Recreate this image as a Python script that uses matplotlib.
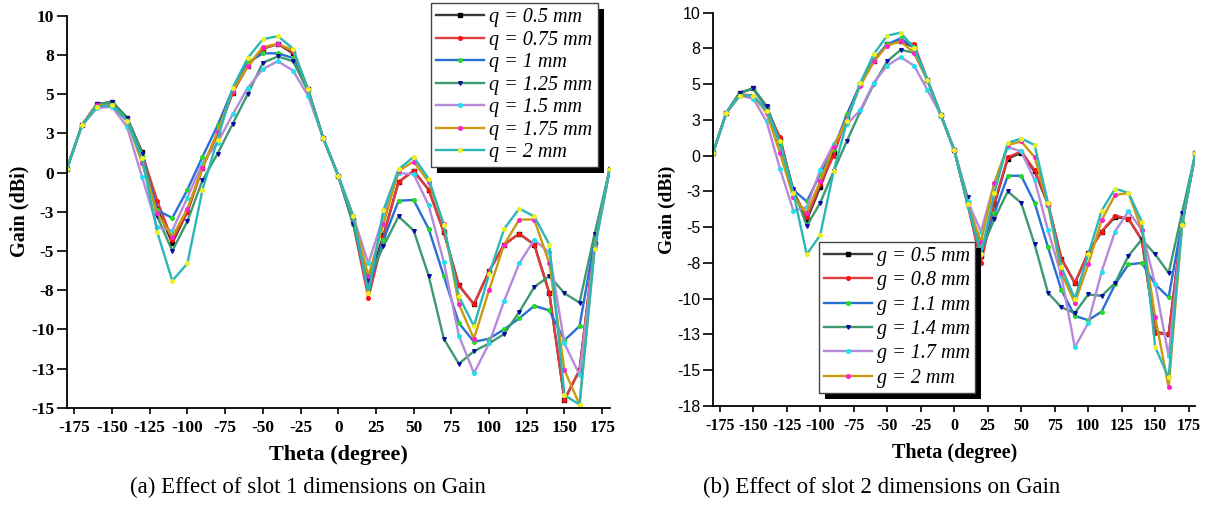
import matplotlib
matplotlib.use('Agg')
import matplotlib.pyplot as plt
from matplotlib.patches import Rectangle
from matplotlib.transforms import IdentityTransform

plt.rcParams['font.family'] = 'Liberation Serif'

# sampled angles (degree)
theta = list(range(-180, 181, 10))

# (a) slot 1, parameter q
q_labels = ['q = 0.5 mm', 'q = 0.75 mm', 'q = 1 mm', 'q = 1.25 mm',
            'q = 1.5 mm', 'q = 1.75 mm', 'q = 2 mm']
q05 = [0.2, 3.0, 4.35, 4.5, 3.5, 1.3, -2.3, -4.5, -2.5, 0.3, 2.5, 5.1, 6.8, 7.9, 8.2, 7.6, 5.3, 2.2, -0.2,
       -3.0, -7.0, -4.0, -0.6, 0.1, -1.1, -3.8, -7.2, -8.4, -6.3, -4.6, -3.9, -4.6, -7.7, -14.5, -12.6, -4.5, 0.2]
q075 = [0.2, 3.0, 4.35, 4.3, 3.3, 1.2, -1.8, -4.3, -2.5, 0.3, 2.5, 5.1, 6.8, 7.9, 8.2, 7.7, 5.3, 2.2, -0.2,
        -3.3, -8.0, -4.1, -0.6, 0.1, -1.1, -3.8, -7.2, -8.4, -6.3, -4.6, -3.9, -4.6, -7.7, -14.5, -12.6, -4.5, 0.2]
q1 = [0.2, 3.0, 4.35, 4.5, 3.5, 1.1, -2.4, -2.9, -1.1, 1.0, 3.0, 5.3, 7.0, 7.6, 7.6, 7.3, 5.2, 2.2, -0.2,
      -3.3, -7.3, -4.3, -1.8, -1.75, -3.6, -6.6, -9.6, -10.8, -10.6, -10.0, -9.3, -8.5, -8.8, -10.7, -9.8, -4.3, 0.2]
q125 = [0.2, 3.0, 4.35, 4.5, 3.5, 1.2, -2.8, -5.0, -3.1, -0.5, 1.2, 3.1, 5.0, 7.0, 7.4, 7.1, 5.2, 2.2, -0.2,
        -3.3, -6.8, -4.7, -2.8, -3.7, -6.6, -10.6, -12.2, -11.4, -10.9, -10.3, -8.9, -7.3, -6.6, -7.7, -8.3, -3.9, 0.2]
q15 = [0.2, 3.0, 4.1, 4.2, 2.9, -0.3, -3.5, -3.7, -1.6, 0.6, 1.9, 3.7, 5.4, 6.6, 7.1, 6.5, 4.9, 2.2, -0.2,
       -2.8, -5.8, -2.8, -0.05, -0.1, -2.1, -5.7, -10.4, -12.8, -10.9, -8.2, -5.8, -4.3, -5.1, -10.9, -12.9, -4.7, 0.2]
q175 = [0.2, 3.0, 4.3, 4.3, 3.3, 0.6, -2.6, -4.1, -2.3, 0.3, 2.6, 5.2, 6.8, 8.0, 8.2, 7.8, 5.3, 2.2, -0.2,
        -2.8, -6.6, -3.3, 0.1, 0.7, -0.6, -3.3, -8.4, -10.6, -7.5, -4.6, -3.0, -3.0, -5.8, -12.6, -14.8, -4.8, 0.2]
q2 = [0.2, 3.0, 4.2, 4.3, 3.3, 0.9, -3.8, -6.9, -5.8, -1.1, 2.1, 5.4, 7.3, 8.5, 8.7, 7.9, 5.3, 2.2, -0.2,
      -2.8, -7.7, -2.4, 0.2, 1.0, -0.4, -3.35, -7.9, -9.8, -6.5, -3.6, -2.3, -2.8, -4.6, -14.2, -14.8, -4.9, 0.2]

# (b) slot 2, parameter g
g_labels = ['g = 0.5 mm', 'g = 0.8 mm', 'g = 1.1 mm', 'g = 1.4 mm',
            'g = 1.7 mm', 'g = 2 mm', None]
g05 = [0.2, 3.0, 4.4, 4.7, 3.4, 1.2, -2.5, -4.5, -2.2, 0.2, 2.8, 5.0, 6.6, 7.8, 8.0, 7.6, 5.3, 2.85, 0.4,
       -3.3, -7.0, -3.4, -0.2, 0.2, -1.1, -3.4, -7.2, -8.9, -6.8, -5.3, -4.3, -4.4, -5.9, -12.3, -12.5, -4.8, 0.2]
g08 = [0.2, 3.0, 4.3, 4.2, 3.2, 1.3, -2.5, -4.3, -2.0, 0.0, 2.85, 5.0, 6.6, 7.8, 8.0, 7.8, 5.3, 2.85, 0.4,
       -3.4, -7.5, -3.3, -0.1, 0.3, -1.0, -3.3, -7.2, -8.9, -6.8, -5.3, -4.2, -4.4, -5.9, -12.4, -12.5, -4.85, 0.2]
g11 = [0.2, 3.0, 4.4, 4.7, 3.4, 0.8, -2.4, -3.2, -1.3, 0.5, 2.9, 5.0, 6.7, 7.8, 8.2, 7.6, 5.3, 2.85, 0.4,
       -3.4, -6.7, -4.0, -1.4, -1.4, -3.3, -6.4, -9.4, -11.2, -11.5, -10.9, -9.0, -7.6, -7.5, -9.0, -9.9, -4.6, 0.2]
g14 = [0.2, 3.0, 4.4, 4.7, 3.5, 0.9, -2.35, -4.9, -3.3, -1.1, 1.05, 3.1, 5.0, 6.6, 7.4, 7.2, 5.3, 2.85, 0.4,
       -2.9, -6.7, -4.4, -2.5, -3.3, -6.2, -9.6, -10.6, -11.0, -9.7, -9.8, -8.9, -7.0, -5.85, -6.9, -8.2, -4.0, 0.2]
g17 = [0.2, 3.0, 4.2, 4.0, 2.4, -0.9, -3.85, -3.6, -1.0, 0.8, 2.2, 3.2, 5.1, 6.3, 6.9, 6.3, 4.6, 2.85, 0.4,
       -3.2, -5.3, -1.9, 0.6, 0.3, -1.7, -5.2, -8.4, -13.4, -11.7, -8.1, -5.3, -3.9, -5.2, -9.0, -14.0, -4.85, 0.2]
g2 = [0.2, 3.0, 4.2, 4.2, 3.0, 0.2, -2.9, -4.0, -1.8, 0.6, 2.6, 4.9, 6.6, 7.7, 8.0, 7.2, 5.3, 2.85, 0.4,
      -3.4, -6.0, -1.9, 0.75, 1.0, -0.1, -3.45, -8.2, -10.3, -7.6, -4.5, -2.75, -2.6, -5.2, -11.3, -16.2, -4.85, 0.2]
g_extra = [0.2, 3.0, 4.2, 4.2, 3.15, 1.0, -2.6, -6.9, -5.55, -1.1, 2.4, 5.1, 7.1, 8.4, 8.6, 7.55, 5.3, 2.85, 0.4,
           -3.4, -6.9, -2.6, 0.9, 1.2, 0.75, -3.3, -7.8, -10.0, -6.9, -3.85, -2.3, -2.6, -4.6, -13.4, -15.5, -4.85, 0.2]

# axis ticks (Origin style: step 2.5, labels rounded)
y_ticks_a = [10, 7.5, 5, 2.5, 0, -2.5, -5, -7.5, -10, -12.5, -15]
y_labels_a = ['10', '8', '5', '3', '0', '-3', '-5', '-8', '-10', '-13', '-15']
y_ticks_b = [10, 7.5, 5, 2.5, 0, -2.5, -5, -7.5, -10, -12.5, -15, -17.5]
y_labels_b = ['10', '8', '5', '3', '0', '-3', '-5', '-8', '-10', '-13', '-15', '-18']
x_ticks = [-175, -150, -125, -100, -75, -50, -25, 0, 25, 50, 75, 100, 125, 150, 175]

line_colors = ['#3a3a3a', '#e23b3b', '#2a6fd6', '#3d9a6e', '#b68ad8', '#c99a10', '#2ab7b7']
mark_colors = ['#000000', '#ff1010', '#22dd22', '#0a0aa0', '#22e0f0', '#ff22cc', '#f0f020']
markers = ['s', 'o', 'o', 'v', 'o', 'o', 'o']

fig = plt.figure(figsize=(12.09, 5.08), dpi=100)
ax1 = fig.add_axes([0.0552, 0.1974, 0.4491, 0.7717])
ax2 = fig.add_axes([0.5897, 0.2008, 0.3991, 0.7742])


def draw(ax, series, labels, xfs, xlab_fs, ylab_fs):
    for i, vals in enumerate(series):
        ax.plot(theta, vals, color=line_colors[i], lw=1.7, marker=markers[i], ms=2.6,
                mfc=mark_colors[i], mec=mark_colors[i], label=labels[i])
    ax.set_xlim(-180, 180)
    for s in ['top', 'right']:
        ax.spines[s].set_visible(False)
    for s in ['left', 'bottom']:
        ax.spines[s].set_linewidth(1.3)
    ax.set_xticks(x_ticks)
    ax.set_xticklabels([str(t) for t in x_ticks], fontweight='bold', fontsize=xfs)
    ax.set_xticks([-150, -100, -50, 0, 50, 100, 150], minor=True)
    ax.tick_params(axis='x', which='major', direction='out', length=4, width=1.2, pad=5)
    ax.tick_params(axis='x', which='minor', direction='out', length=7, width=1.2)
    ax.tick_params(axis='y', direction='out', length=7, width=1.2, pad=2)
    ax.set_xlabel('Theta (degree)', fontweight='bold', fontsize=xlab_fs, labelpad=6)
    ax.set_ylabel('Gain (dBi)', fontweight='bold', fontsize=ylab_fs, labelpad=1)


draw(ax1, [q05, q075, q1, q125, q15, q175, q2], q_labels, 12.5, 16, 14.5)
ax1.set_ylim(-15, 10)
ax1.set_yticks(y_ticks_a)
ax1.set_yticklabels(y_labels_a, fontweight='bold', fontsize=12.5)

draw(ax2, [g05, g08, g11, g14, g17, g2, g_extra], g_labels, 11.5, 14.5, 14)
ax2.set_ylim(-17.5, 10)
ax2.set_yticks(y_ticks_b)
ax2.set_yticklabels(y_labels_b, fontfamily='Liberation Sans', fontsize=11.5)

leg_prop = {'family': 'Liberation Serif', 'style': 'italic', 'size': 14.5}
leg1 = ax1.legend(loc='upper left', bbox_to_anchor=(0.3565, 0.994), bbox_transform=fig.transFigure,
                  borderaxespad=0, fancybox=False, edgecolor='#444444', framealpha=1, prop=leg_prop,
                  handlelength=2.4, labelspacing=0.17, borderpad=0.25, handletextpad=0.25)
h2, l2 = ax2.get_legend_handles_labels()
leg2 = ax2.legend(h2, l2, loc='upper left', bbox_to_anchor=(0.6774, 0.5236), bbox_transform=fig.transFigure,
                  borderaxespad=0, fancybox=False, edgecolor='#444444', framealpha=1, prop=leg_prop,
                  handlelength=2.4, labelspacing=0.26, borderpad=0.25, handletextpad=0.25)
for leg in [leg1, leg2]:
    leg.get_frame().set_linewidth(1.0)

fig.text(0.255, 0.041, '(a) Effect of slot 1 dimensions on Gain', ha='center', va='center', fontsize=16.5)
fig.text(0.7295, 0.041, '(b) Effect of slot 2 dimensions on Gain', ha='center', va='center', fontsize=16.5)

# black drop shadow behind the legends
fig.canvas.draw()
for ax, leg in [(ax1, leg1), (ax2, leg2)]:
    bb = leg.get_window_extent()
    shadow = Rectangle((bb.x0 + 6, bb.y0 - 6), bb.width, bb.height, transform=IdentityTransform(),
                       facecolor='black', edgecolor='none', zorder=4.9, clip_on=False)
    ax.add_artist(shadow)

fig.savefig('out.png', dpi=100)
